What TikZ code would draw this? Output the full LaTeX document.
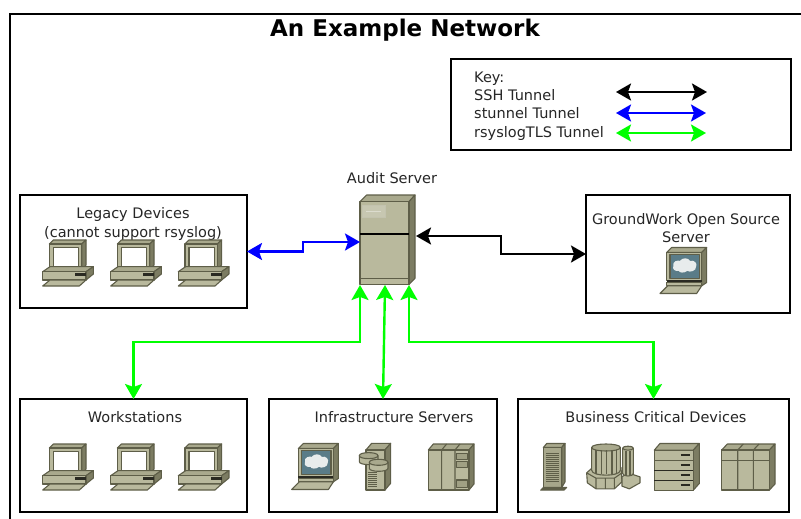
\documentclass[tikz,border=0pt]{standalone}
\usepackage{fontspec}
\setmainfont{DejaVu Sans}
\usetikzlibrary{arrows.meta}
\definecolor{fr}{HTML}{B9B99D}
\definecolor{tp}{HTML}{A9A98D}
\definecolor{sd}{HTML}{7C7C62}
\definecolor{ol}{HTML}{5E5E48}
\definecolor{dk}{HTML}{2A2A22}
\definecolor{scr}{HTML}{5A7C88}
\definecolor{clo}{HTML}{E8ECEC}
\newcommand{\cloudat}[2]{\begin{scope}[shift={(#1,#2)}]\fill[clo] (-34,0) .. controls (-38,-16) and (-20,-18) .. (-14,-16)
      .. controls (-8,-26) and (12,-26) .. (16,-16)
      .. controls (28,-20) and (40,-8) .. (34,2)
      .. controls (36,14) and (14,20) .. (8,14)
      .. controls (-2,22) and (-16,20) .. (-18,14)
      .. controls (-30,16) and (-38,8) .. (-34,0) -- cycle;\end{scope}}
\newcommand{\diskat}[2]{\begin{scope}[shift={(#1,#2)}]
    \filldraw[part,fill=fr] (-28,-8) -- (-28,10) .. controls (-28,22) and (28,22) .. (28,10) -- (28,-8) -- cycle;
    \filldraw[part,fill=tp] (-28,-8) .. controls (-28,-20) and (28,-20) .. (28,-8) .. controls (28,4) and (-28,4) .. (-28,-8) -- cycle;\end{scope}}
\tikzset{
  boxn/.style={draw=black,line width=2.2pt,fill=white,inner sep=0pt,outer sep=0pt,anchor=north west},
  lab/.style={font=\fontsize{14.5}{17}\selectfont,text=black!85,inner sep=0pt,anchor=base},
  keylab/.style={font=\fontsize{14.5}{17}\selectfont,text=black!85,inner sep=0pt,anchor=base west},
  tun/.style={line width=2.4pt,{Stealth[length=15pt,width=17pt,inset=3pt]}-{Stealth[length=15pt,width=17pt,inset=3pt]}},
  ssh/.style={tun,draw=black},
  stn/.style={tun,draw=blue},
  tls/.style={tun,draw=green},
  part/.style={draw=ol,line width=1.1pt,line join=round},
  pc/.pic={\begin{scope}[scale=1/3]
    \filldraw[part,fill=tp] (20,12)--(32,0)--(130,0)--(117,12)--cycle;
    \filldraw[part,fill=sd] (117,12)--(130,0)--(130,75)--(117,88)--cycle;
    \filldraw[part,fill=fr] (20,12) rectangle (117,88);
    \filldraw[part,fill=white] (32,22) rectangle (108,80);
    \filldraw[part,fill=tp] (0,95)--(22,80)--(152,80)--(130,95)--cycle;
    \filldraw[part,fill=sd] (130,95)--(152,80)--(152,102)--(130,120)--cycle;
    \filldraw[part,fill=fr] (0,95) rectangle (130,120);
    \fill[dk] (97,100) rectangle (130,108);
    \filldraw[part,fill=fr] (0,138)--(22,120)--(130,120)--(110,138)--cycle;
  \end{scope}},
  cloudpc/.pic={\begin{scope}[scale=1/3]
    \filldraw[part,fill=tp] (20,15)--(35,0)--(140,0)--(125,15)--cycle;
    \filldraw[part,fill=sd] (125,15)--(140,0)--(140,105)--(125,115)--cycle;
    \filldraw[part,fill=fr] (20,15) rectangle (125,98);
    \filldraw[part,fill=scr] (30,22) rectangle (118,92);
    \cloudat{74}{56}
    \fill[dk] (20,98) rectangle (125,104);
    \filldraw[part,fill=fr] (20,104) rectangle (125,115);
    \filldraw[part,fill=fr] (0,138)--(23,115)--(125,115)--(110,138)--cycle;
  \end{scope}},
  auditbox/.pic={\begin{scope}[scale=1/3]
    \filldraw[part,fill=tp] (0,20)--(20,0)--(165,0)--(147,20)--cycle;
    \filldraw[part,fill=sd] (147,20)--(165,0)--(165,250)--(147,268)--cycle;
    \filldraw[part,fill=fr] (0,20) rectangle (147,268);
    \filldraw[draw=tp!70!white,line width=1pt,fill=fr!80!white] (7,32) rectangle (75,67);
    \draw[line width=1pt,draw=fr!50!white] (18,50)--(62,50);
    \draw[part] (0,250)--(147,250);
    \draw[black,line width=2pt] (0,118)--(147,118);
  \end{scope}},
  towerdisk/.pic={\begin{scope}[scale=1/3]
    \filldraw[part,fill=tp] (20,20)--(37,0)--(94,0)--(77,20)--cycle;
    \filldraw[part,fill=sd] (77,20)--(94,0)--(94,120)--(77,140)--cycle;
    \filldraw[part,fill=fr] (20,20) rectangle (77,140);
    \foreach \yy in {88,94,...,130} {\draw[ol,line width=0.8pt] (25,\yy)--(54,\yy);}
    \diskat{28}{45}
    \diskat{58}{65}
  \end{scope}},
  rackinf/.pic={\begin{scope}[scale=1/3]
    \filldraw[part,fill=tp] (0,18)--(15,0)--(137,0)--(122,18)--cycle;
    \filldraw[part,fill=sd] (122,18)--(137,0)--(137,120)--(122,138)--cycle;
    \filldraw[part,fill=fr] (0,18) rectangle (122,138);
    \draw[part] (40,18)--(55,0) (80,18)--(95,0) (40,18)--(40,138) (80,18)--(80,138);
    \filldraw[part,fill=tp!80!sd] (85,28) rectangle (117,46);
    \filldraw[part,fill=tp!80!sd] (85,53) rectangle (117,71);
    \filldraw[part,fill=tp!80!sd] (85,108) rectangle (117,130);
  \end{scope}},
  slim/.pic={\begin{scope}[scale=1/3]
    \filldraw[part,fill=tp] (8,12)--(18,0)--(73,0)--(63,12)--cycle;
    \filldraw[part,fill=sd] (63,12)--(73,0)--(73,115)--(63,132)--cycle;
    \filldraw[part,fill=fr!70!sd] (8,12) rectangle (63,132);
    \foreach \yy in {30,36,...,118} {\draw[ol,line width=0.7pt] (16,\yy)--(54,\yy);}
    \filldraw[part,fill=ol] (0,140)--(8,132)--(78,132)--(70,140)--cycle;
  \end{scope}},
  mainfr/.pic={\begin{scope}[scale=1/3]
    \filldraw[part,fill=fr] (2,88)--(20,72)--(105,72)--(108,115)--(85,136)--(30,136)--(4,118)--cycle;
    \draw[part] (2,88)--(30,104)--(85,104)--(108,88) (30,104)--(30,136) (58,104)--(58,136) (85,104)--(85,136);
    \filldraw[part,fill=fr] (17,12)--(17,80) .. controls (17,100) and (103,100) .. (103,80)--(103,12)--cycle;
    \filldraw[part,fill=tp] (17,12) .. controls (17,-2) and (103,-2) .. (103,12) .. controls (103,26) and (17,26) .. (17,12) -- cycle;
    \foreach \xx in {30,46,62,78,92} {\draw[part] (\xx,20)--(\xx,92);}
    \filldraw[part,fill=fr] (108,100)--(125,88)--(162,100)--(162,118)--(130,136)--(108,128)--cycle;
    \filldraw[part,fill=fr] (110,14)--(110,90) .. controls (110,100) and (142,100) .. (142,90)--(142,14)--cycle;
    \filldraw[part,fill=tp] (110,14) .. controls (110,6) and (142,6) .. (142,14) .. controls (142,22) and (110,22) .. (110,14) -- cycle;
    \draw[part] (120,22)--(120,96) (132,22)--(132,96);
  \end{scope}},
  drawers/.pic={\begin{scope}[scale=1/3]
    \filldraw[part,fill=tp] (0,20)--(17,0)--(135,0)--(117,20)--cycle;
    \filldraw[part,fill=sd] (117,20)--(135,0)--(135,120)--(117,140)--cycle;
    \filldraw[part,fill=fr] (0,20) rectangle (117,140);
    \draw[part] (0,50)--(117,50);
    \draw[dk,line width=1.3pt] (0,80)--(117,80) (0,110)--(117,110);
    \foreach \yy in {35,65,95,125} {\draw[dk,line width=1.5pt] (80,\yy)--(107,\yy);}
  \end{scope}},
  rackbig/.pic={\begin{scope}[scale=1/3]
    \filldraw[part,fill=tp] (0,18)--(17,0)--(160,0)--(143,18)--cycle;
    \filldraw[part,fill=sd] (143,18)--(160,0)--(160,120)--(143,138)--cycle;
    \filldraw[part,fill=fr] (0,18) rectangle (143,138);
    \draw[part] (48,18)--(65,0) (95,18)--(112,0) (48,18)--(48,138) (95,18)--(95,138);
    \draw[ol,line width=0.5pt] (0,48)--(143,48);
  \end{scope}}
}
\begin{document}
\begin{tikzpicture}[x=1pt,y=-1pt]
\useasboundingbox (0,0) rectangle (801,519);
\fill[white] (0,0) rectangle (801,519);
\draw[black,line width=2.4pt] (10,519)--(10,14)--(801,14);
\node[font=\bfseries\fontsize{23}{27}\selectfont,inner sep=0pt,anchor=base] (title) at (405,36.5) {An Example Network};
% key
\node[boxn,minimum width=340pt,minimum height=91pt] (key) at (451,59) {};
\node[keylab] (k0) at (474,82.8) {Key:};
\node[keylab] (k1) at (474,100.5) {SSH Tunnel};
\node[keylab] (k2) at (474,118.8) {stunnel Tunnel};
\node[keylab] (k3) at (474,137) {rsyslogTLS Tunnel};
\coordinate (k1a) at (616,92); \coordinate (k1b) at (707,92);
\coordinate (k2a) at (616,113); \coordinate (k2b) at (706,113);
\coordinate (k3a) at (616,133); \coordinate (k3b) at (706,133);
\draw[ssh] (k1a)--(k1b);
\draw[stn] (k2a)--(k2b);
\draw[tls] (k3a)--(k3b);
% boxes
\node[boxn,minimum width=227pt,minimum height=113pt] (legacy) at (20,195) {};
\node[boxn,minimum width=204pt,minimum height=118pt] (gw) at (586,195) {};
\node[boxn,minimum width=227pt,minimum height=113pt] (work) at (20,399) {};
\node[boxn,minimum width=228pt,minimum height=113pt] (infra) at (269,399) {};
\node[boxn,minimum width=271pt,minimum height=113pt] (biz) at (518,399) {};
% labels
\node[lab] (l1) at (133,218.8) {Legacy Devices};
\node[lab] (l2) at (133,237.2) {(cannot support rsyslog)};
\node[lab] (g1) at (686,224) {GroundWork Open Source};
\node[lab] (g2) at (686,242.2) {Server};
\node[lab] (wl) at (135,422.3) {Workstations};
\node[lab] (il) at (394,422.3) {Infrastructure Servers};
\node[lab] (bl) at (656,422.3) {Business Critical Devices};
\node[lab] (al) at (392,183) {Audit Server};
% icons
\foreach \xx in {42.7,110.7,178.3} {
  \pic at (\xx,240) {pc};
  \pic at (\xx,444) {pc};
}
\pic at (660,247.5) {cloudpc};
\pic at (291.7,443.5) {cloudpc};
\pic at (359.3,443.3) {towerdisk};
\pic at (428.3,444) {rackinf};
\pic at (540.7,443.5) {slim};
\pic at (586,443.5) {mainfr};
\pic at (654.3,443.5) {drawers};
\pic at (721.7,444) {rackbig};
\pic at (360,195) {auditbox};
% server anchor points
\coordinate (aw) at (360,242);
\coordinate (ae) at (416,236);
\coordinate (as1) at (360,285);
\coordinate (as2) at (385,285);
\coordinate (as3) at (409,285);
% connectors
\draw[stn] (legacy.east)--(303,251.5)--(303,242)--(aw);
\draw[ssh] (ae)--(501,236)--(501,254)--(gw.west);
\draw[tls] (as1)--(360,342)--(133.5,342)--(work.north);
\draw[tls] (as2)--(infra.north);
\draw[tls] (as3)--(409,342)--(653.5,342)--(biz.north);
\end{tikzpicture}
\end{document}
